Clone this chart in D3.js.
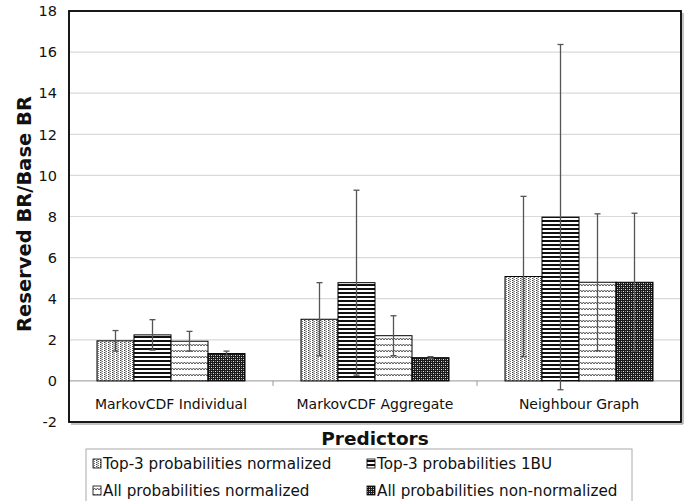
<!DOCTYPE html>
<html><head><meta charset="utf-8">
<script src="https://cdn.jsdelivr.net/npm/d3@7/dist/d3.min.js"></script>
<style>body{margin:0;background:#fff}svg{display:block}text{font-family:"DejaVu Sans",Verdana,sans-serif}</style>
</head><body><svg id="c" width="694" height="501"></svg>
<script>
const categories = ["MarkovCDF Individual", "MarkovCDF Aggregate", "Neighbour Graph"];
const seriesNames = ["Top-3 probabilities normalized", "Top-3 probabilities 1BU", "All probabilities normalized", "All probabilities non-normalized"];
const top3Normalized = [1.95, 3.0, 5.08];
const top3NormalizedErr = [0.5, 1.78, 3.9];
const top3OneBU = [2.24, 4.78, 7.97];
const top3OneBUErr = [0.74, 4.5, 8.4];
const allNormalized = [1.93, 2.2, 4.8];
const allNormalizedErr = [0.48, 0.97, 3.33];
const allNonNormalized = [1.33, 1.13, 4.8];
const allNonNormalizedErr = [0.12, 0.05, 3.36];
const yTicks = [-2, 0, 2, 4, 6, 8, 10, 12, 14, 16, 18];

const seriesVals = [top3Normalized, top3OneBU, allNormalized, allNonNormalized];
const seriesErrs = [top3NormalizedErr, top3OneBUErr, allNormalizedErr, allNonNormalizedErr];
const patIds = ["p0", "p1", "p2", "p3"];

const svg = d3.select("#c");
const L = 69, R = 681, T = 11, B = 422;
const x = d3.scaleBand().domain(categories).range([L, R]).padding(0);
const xs = d3.scaleBand().domain(d3.range(4)).range([28, x.bandwidth() - 28]).padding(0);
const y = d3.scaleLinear().domain([-2, 18]).range([B, T]);

// patterns
const defs = svg.append("defs");
let p = defs.append("pattern").attr("id", "p0").attr("patternUnits", "userSpaceOnUse").attr("width", 4).attr("height", 2);
p.append("rect").attr("width", 4).attr("height", 2).attr("fill", "#fff");
p.append("rect").attr("x", 0).attr("y", 0).attr("width", 1).attr("height", 1).attr("fill", "#444");
p.append("rect").attr("x", 2).attr("y", 1).attr("width", 1).attr("height", 1).attr("fill", "#777");
p.append("rect").attr("x", 1).attr("y", 0).attr("width", 1).attr("height", 2).attr("fill", "#bbb");
p = defs.append("pattern").attr("id", "p1").attr("patternUnits", "userSpaceOnUse").attr("width", 4).attr("height", 4);
p.append("rect").attr("width", 4).attr("height", 4).attr("fill", "#fff");
p.append("rect").attr("y", 0).attr("width", 4).attr("height", 2).attr("fill", "#111");
p = defs.append("pattern").attr("id", "p2").attr("patternUnits", "userSpaceOnUse").attr("width", 6).attr("height", 6);
p.append("rect").attr("width", 6).attr("height", 6).attr("fill", "#fff");
p.append("path").attr("d", "M0,4 L1.5,2 L3,4 L4.5,2 L6,4").attr("fill", "none").attr("stroke", "#444").attr("stroke-width", 0.9);
p = defs.append("pattern").attr("id", "p3").attr("patternUnits", "userSpaceOnUse").attr("width", 4).attr("height", 4);
p.append("rect").attr("width", 4).attr("height", 4).attr("fill", "#1a1a1a");
p.append("rect").attr("x", 1).attr("y", 1).attr("width", 1).attr("height", 1).attr("fill", "#ddd");
p.append("rect").attr("x", 3).attr("y", 1).attr("width", 1).attr("height", 1).attr("fill", "#888");
p.append("rect").attr("x", 1).attr("y", 3).attr("width", 1).attr("height", 1).attr("fill", "#888");
p.append("rect").attr("x", 3).attr("y", 3).attr("width", 1).attr("height", 1).attr("fill", "#ddd");

// gridlines
svg.append("g").selectAll("line").data(yTicks.filter(v => v > -2 && v < 18)).join("line")
  .attr("x1", L).attr("x2", R).attr("y1", d => y(d)).attr("y2", d => y(d))
  .attr("stroke", d => d === 0 ? "#aaa" : "#d9d9d9").attr("stroke-width", 1.2);

// category ticks
svg.append("g").selectAll("line").data(categories.slice(1)).join("line")
  .attr("x1", d => x(d)).attr("x2", d => x(d)).attr("y1", y(0)).attr("y2", y(0) + 5)
  .attr("stroke", "#999");

// bars
const gBars = svg.append("g");
categories.forEach((c, ci) => {
  seriesVals.forEach((vals, si) => {
    const x0 = x(c) + xs(si);
    const v = vals[ci];
    gBars.append("rect")
      .attr("x", x0).attr("width", xs.bandwidth())
      .attr("y", y(Math.max(0, v))).attr("height", Math.abs(y(v) - y(0)))
      .attr("fill", "url(#" + patIds[si] + ")").attr("stroke", "#000").attr("stroke-width", 1);
  });
});
// error bars
const gErr = svg.append("g").attr("stroke", "#555").attr("stroke-width", 1.3);
categories.forEach((c, ci) => {
  seriesVals.forEach((vals, si) => {
    const cx = x(c) + xs(si) + xs.bandwidth() / 2;
    const v = vals[ci], e = seriesErrs[si][ci];
    gErr.append("line").attr("x1", cx).attr("x2", cx).attr("y1", y(v + e)).attr("y2", y(v - e));
    gErr.append("line").attr("x1", cx - 3).attr("x2", cx + 3).attr("y1", y(v + e)).attr("y2", y(v + e));
    gErr.append("line").attr("x1", cx - 3).attr("x2", cx + 3).attr("y1", y(v - e)).attr("y2", y(v - e));
  });
});

// plot border
svg.append("rect").attr("x", L).attr("y", T).attr("width", R - L).attr("height", B - T)
  .attr("fill", "none").attr("stroke", "#000").attr("stroke-width", 1.8);
svg.append("line").attr("x1", R + 2).attr("x2", R + 2).attr("y1", T + 2).attr("y2", B + 2).attr("stroke", "#888").attr("stroke-width", 1);
svg.append("line").attr("x1", L + 2).attr("x2", R + 2).attr("y1", B + 2).attr("y2", B + 2).attr("stroke", "#888").attr("stroke-width", 1);

// y tick labels
svg.append("g").selectAll("text").data(yTicks).join("text")
  .attr("x", 57).attr("y", d => y(d)).attr("dy", "0.36em").attr("text-anchor", "end")
  .attr("font-size", 14.5).attr("fill", "#111").text(d => d);

// category labels
svg.append("g").selectAll("text").data(categories).join("text")
  .attr("x", d => x(d) + x.bandwidth() / 2).attr("y", 409).attr("text-anchor", "middle")
  .attr("font-size", 14).attr("fill", "#111").text(d => d);

// axis titles
svg.append("text").attr("transform", "translate(31," + 214 + ") rotate(-90)")
  .attr("text-anchor", "middle").attr("font-size", 19.5).attr("font-weight", "bold").attr("fill", "#111")
  .text("Reserved BR/Base BR");
svg.append("text").attr("x", (L + R) / 2).attr("y", 445).attr("text-anchor", "middle")
  .attr("font-size", 18.5).attr("font-weight", "bold").attr("fill", "#111").text("Predictors");

// legend
const lg = svg.append("g");
lg.append("rect").attr("x", 86).attr("y", 449).attr("width", 546).attr("height", 60)
  .attr("fill", "#fff").attr("stroke", "#aaa").attr("stroke-width", 1);
const legPos = [[93, 464], [367, 464], [93, 491], [367, 491]];
seriesNames.forEach((n, i) => {
  const [lx, ly] = legPos[i];
  lg.append("rect").attr("x", lx).attr("y", ly - 5).attr("width", 8).attr("height", 9)
    .attr("fill", "url(#" + patIds[i] + ")").attr("stroke", "#000").attr("stroke-width", 0.8);
  lg.append("text").attr("x", lx + 10).attr("y", ly).attr("dy", "0.36em")
    .attr("font-size", 15.2).attr("fill", "#111").text(n);
});
</script></body></html>
